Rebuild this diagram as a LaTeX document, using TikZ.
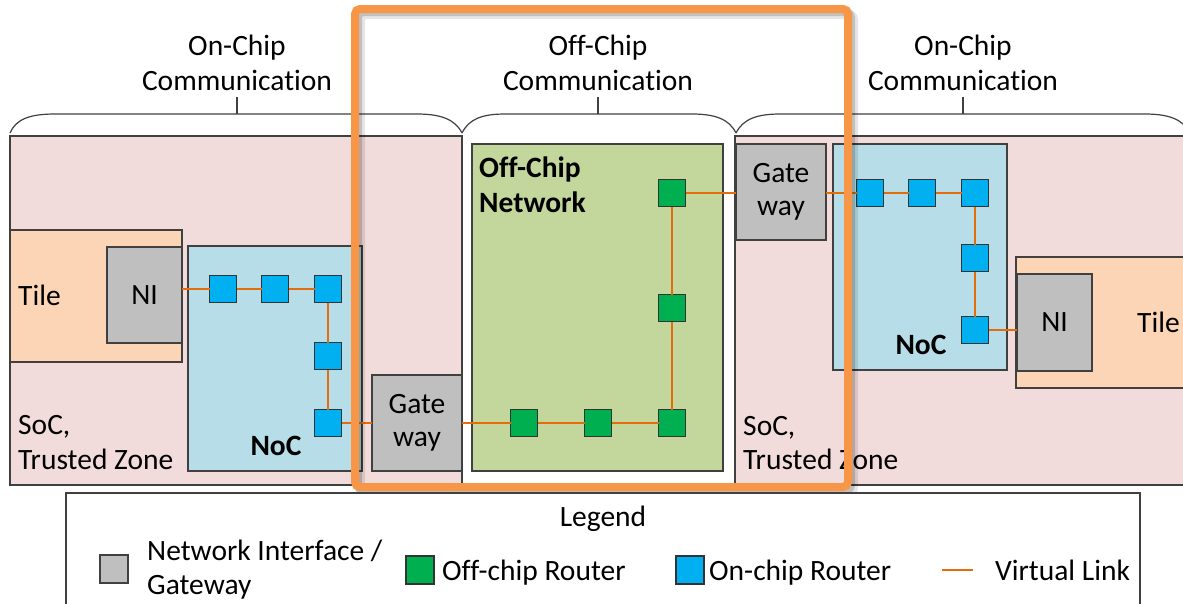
\documentclass[tikz,border=0pt]{standalone}
\usepackage{fontspec}
\setmainfont[Ligatures=NoCommon]{Carlito}
\definecolor{edge}{HTML}{404040}
\definecolor{socbg}{HTML}{F2DCDB}
\definecolor{tilebg}{HTML}{FBD5B5}
\definecolor{nigray}{HTML}{BFBFBF}
\definecolor{nocbg}{HTML}{B7DEE8}
\definecolor{offbg}{HTML}{C3D69B}
\definecolor{offr}{HTML}{00B050}
\definecolor{onr}{HTML}{00B0F0}
\definecolor{linkc}{HTML}{E46C0A}
\definecolor{hlc}{HTML}{F79646}
\begin{document}
\begin{tikzpicture}[x=1pt,y=-1pt,
  font=\fontsize{29.5}{34}\selectfont,
  area/.style={draw=edge, line width=1.3pt, inner sep=0pt, outer sep=0pt, anchor=north west},
  grayblk/.style={draw=edge, line width=1.3pt, fill=nigray, inner sep=0pt, outer sep=0pt, align=center},
  router/.style={draw=edge!80!black, line width=1.2pt, minimum size=27pt, inner sep=0pt, outer sep=0pt},
  onrouter/.style={router, fill=onr},
  offrouter/.style={router, fill=offr},
  vlink/.style={draw=linkc, line width=2.2pt},
  bracket/.style={draw=edge, line width=1.2pt},
  lbl/.style={inner sep=0pt, anchor=base west},
  ctr/.style={inner sep=0pt, anchor=base},
  bold/.style={font=\fontsize{29.5}{34}\selectfont\bfseries}]
\useasboundingbox (0,0) rectangle (1183,603);
\clip (0,0) rectangle (1183,603);

% ---- zones ----
\node[area, fill=socbg, minimum width=452pt, minimum height=349pt] (soc1) at (10,136) {};
\node[area, fill=socbg, minimum width=470pt, minimum height=349pt] (soc2) at (735,136) {};
\node[area, fill=offbg, minimum width=251pt, minimum height=327pt] (offnet) at (472,144) {};

% ---- left chip ----
\node[area, fill=tilebg, minimum width=172pt, minimum height=132pt] (tile1) at (10,230) {};
\node[grayblk, minimum width=75pt, minimum height=96pt] (ni1) at (144.5,295) {NI};
\node[area, fill=nocbg, minimum width=174pt, minimum height=225pt] (noc1) at (188,246) {};
\node[grayblk, minimum width=90pt, minimum height=96pt] (gw1) at (417,423) {Gate\\[-1pt]way};

\node[onrouter] (a1) at (223,289) {};
\node[onrouter] (a2) at (275,289) {};
\node[onrouter] (a3) at (328,289) {};
\node[onrouter] (a4) at (328,356) {};
\node[onrouter] (a5) at (328,423) {};

% ---- off-chip network ----
\node[offrouter] (g1) at (672,193) {};
\node[offrouter] (g2) at (672,308) {};
\node[offrouter] (g3) at (672,423) {};
\node[offrouter] (g4) at (524,423) {};
\node[offrouter] (g5) at (598,423) {};

% ---- right chip ----
\node[grayblk, minimum width=90pt, minimum height=96pt] (gw2) at (781,192) {Gate\\[-1pt]way};
\node[area, fill=nocbg, minimum width=174pt, minimum height=226pt] (noc2) at (833,144) {};
\node[area, fill=tilebg, minimum width=190pt, minimum height=131pt] (tile2) at (1016,257) {};
\node[grayblk, minimum width=75pt, minimum height=97pt] (ni2) at (1054.5,322.5) {NI};

\node[onrouter] (b1) at (870,193) {};
\node[onrouter] (b2) at (922,193) {};
\node[onrouter] (b3) at (975,193) {};
\node[onrouter] (b4) at (975,258) {};
\node[onrouter] (b5) at (975,330) {};

% ---- virtual links ----
\draw[vlink] (a1 -| ni1.east) -- (a1) -- (a2) -- (a3) -- (a4) -- (a5) -- (a5 -| gw1.west);
\draw[vlink] (gw1.east |- g4) -- (g4) -- (g5) -- (g3) -- (g2) -- (g1) -- (g1 -| gw2.west);
\draw[vlink] (gw2.east |- b1) -- (b1) -- (b2) -- (b3) -- (b4) -- (b5) -- (b5 -| ni2.west);

% ---- labels inside the zones ----
\node[lbl] (tilelbl1) at (18,305) {Tile};
\node[lbl] (tilelbl2) at (1137,332) {Tile};
\node[lbl] (soclbl1a) at (18,434) {SoC,};
\node[lbl] (soclbl1b) at (18,469) {Trusted Zone};
\node[lbl] (soclbl2a) at (743,435) {SoC,};
\node[lbl] (soclbl2b) at (743,469) {Trusted Zone};
\node[ctr, bold] (noclbl1) at (276,455) {NoC};
\node[ctr, bold] (noclbl2) at (921,354) {NoC};
\node[lbl, bold] (offlbl1) at (479,177) {Off-Chip};
\node[lbl, bold] (offlbl2) at (479,212) {Network};

% ---- brackets and headings ----
\draw[bracket] (10,133) .. controls (16,119) and (30,114) .. (55,114) -- (417,114)
  .. controls (440,114) and (455,119) .. (462,133);
\draw[bracket] (462,133) .. controls (469,119) and (482,114) .. (505,114) -- (692,114)
  .. controls (715,114) and (729,119) .. (736,133);
\draw[bracket] (736,133) .. controls (743,119) and (757,114) .. (780,114) -- (1145,114)
  .. controls (1168,114) and (1183,119) .. (1190,133);

\node[ctr] (h1a) at (237,55) {On-Chip};
\node[ctr] (h1b) at (237,90) {Communication};
\node[ctr] (h2a) at (598,55) {Off-Chip};
\node[ctr] (h2b) at (598,90) {Communication};
\node[ctr] (h3a) at (963,55) {On-Chip};
\node[ctr] (h3b) at (963,90) {Communication};
\coordinate (k1) at (237,114);
\coordinate (k2) at (598,114);
\coordinate (k3) at (963,114);
\draw[bracket] (k1) -- ++(0,-17);
\draw[bracket] (k2) -- ++(0,-17);
\draw[bracket] (k3) -- ++(0,-17);

% ---- highlight frame with soft shadow ----
\draw[line width=10pt, black, opacity=0.10, rounded corners=6pt] (360,14) rectangle (853,493);
\draw[line width=8pt, black, opacity=0.16, rounded corners=6pt] (358,12) rectangle (851,491);
\draw[line width=8pt, hlc, rounded corners=5pt] (355,9) rectangle (848,487);

% ---- legend ----
\node[area, fill=white, minimum width=1074pt, minimum height=150pt] (legend) at (66,493) {};
\node[ctr] (legendlbl) at (603,526) {Legend};
\node[grayblk, minimum size=28pt] (lg1) at (114,569) {};
\node[lbl] (lt1a) at (147,560) {Network Interface /};
\node[lbl] (lt1b) at (147,594) {Gateway};
\node[offrouter, minimum size=28pt] (lg2) at (420,570) {};
\node[lbl] (lt2) at (442,580) {Off-chip Router};
\node[onrouter, minimum size=28pt] (lg3) at (690,570) {};
\node[lbl] (lt3) at (709,580) {On-chip Router};
\coordinate (lg4a) at (942,570);
\coordinate (lg4b) at (973,570);
\draw[vlink] (lg4a) -- (lg4b);
\node[lbl] (lt4) at (995,580) {Virtual Link};
\end{tikzpicture}
\end{document}
